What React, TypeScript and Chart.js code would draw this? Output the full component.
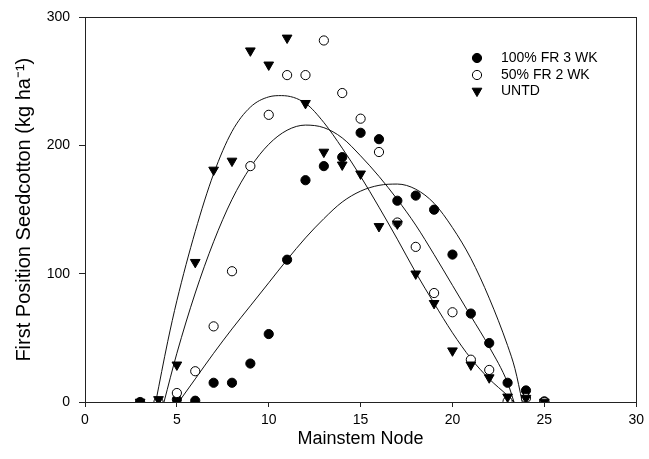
import React, { useEffect, useRef } from "react";
import { Chart, registerables } from "chart.js";

Chart.register(...registerables);

// ---- Data ----
const FR100_NODES = [3, 5, 6, 7, 8, 9, 10, 11, 12, 13, 14, 15, 16, 17, 18, 19, 20, 21, 22, 23, 24, 25];
const FR100_VALUES = [0, 2, 1, 15, 15, 30, 53, 111, 173, 184, 191, 210, 205, 157, 161, 150, 115, 69, 46, 15, 9, 0.5];

const FR50_NODES = [4, 5, 6, 7, 8, 9, 10, 11, 12, 13, 14, 15, 16, 17, 18, 19, 20, 21, 22, 23, 24, 25];
const FR50_VALUES = [0, 7, 24, 59, 102, 184, 224, 255, 255, 282, 241, 221, 195, 140, 121, 85, 70, 33, 25, 0.5, 3, 0];

const UNTD_NODES = [3, 4, 5, 6, 7, 8, 9, 10, 11, 12, 13, 14, 15, 16, 17, 18, 19, 20, 21, 22, 23, 24, 25];
const UNTD_VALUES = [0, 2, 29, 109, 181, 188, 274, 263, 284, 233, 195, 185, 178, 137, 139, 100, 77, 40, 29, 19, 4, 3, 0];

// fitted curves
const FR100_FIT_X = [5.1, 6, 7, 8, 9, 10, 11, 12, 13, 14, 15, 16, 17, 18, 19, 20, 21, 22, 23, 23.4, 23.8];
const FR100_FIT_Y = [0, 18, 38, 57, 75, 93, 111, 128, 143, 156, 164.5, 169, 170, 166, 155, 136, 112, 81, 44, 26, 0];

const FR50_FIT_X = [4.3, 5, 6, 7, 8, 9, 10, 11, 12, 13, 14, 15, 16, 17, 18, 19, 20, 21, 22, 23, 23.35];
const FR50_FIT_Y = [0, 38, 85, 125, 158, 183, 201, 212, 216, 214, 206, 192, 176, 158, 138, 115, 91, 67, 43, 15, 0];

const UNTD_FIT_X = [3.85, 4.5, 5, 6, 7, 8, 9, 10, 10.7, 12, 13, 14, 15, 16, 17, 18, 19, 20, 21, 22, 23, 23.35];
const UNTD_FIT_Y = [0, 47, 79, 133, 178, 211, 230, 238, 239, 233, 218, 198, 176, 152, 127, 101, 77, 54, 34, 18, 5, 0];

const X_TICKS = [0, 5, 10, 15, 20, 25, 30];
const Y_TICKS = [0, 100, 200, 300];

const LEGEND_LABELS = ["100% FR 3 WK", "50% FR 2 WK", "UNTD"];
const X_TITLE = "Mainstem Node";
const Y_TITLE = "First Position Seedcotton (kg ha\u207B\u00B9)";

const FONT = "'Liberation Sans', Arial, sans-serif";

const pts = (xs: number[], ys: number[]) => xs.map((x, i) => ({ x, y: ys[i] }));

const framePlugin = {
  id: "frame",
  afterDatasetsDraw(chart: any) {
    const { ctx, chartArea } = chart;
    ctx.save();
    ctx.strokeStyle = "#222";
    ctx.lineWidth = 1;
    ctx.strokeRect(
      Math.round(chartArea.left) + 0.5,
      Math.round(chartArea.top) + 0.5,
      Math.round(chartArea.right - chartArea.left),
      Math.round(chartArea.bottom - chartArea.top)
    );
    ctx.restore();
  },
};

function drawMarker(ctx: CanvasRenderingContext2D, style: string, r: number, rot: number, x: number, y: number) {
  ctx.beginPath();
  if (style === "triangle") {
    let rad = (rot * Math.PI) / 180;
    ctx.moveTo(x + Math.sin(rad) * r, y - Math.cos(rad) * r);
    rad += (2 * Math.PI) / 3;
    ctx.lineTo(x + Math.sin(rad) * r, y - Math.cos(rad) * r);
    rad += (2 * Math.PI) / 3;
    ctx.lineTo(x + Math.sin(rad) * r, y - Math.cos(rad) * r);
    ctx.closePath();
  } else {
    ctx.arc(x, y, r, 0, Math.PI * 2);
  }
  ctx.fill();
  ctx.stroke();
}

const legendPlugin = {
  id: "customLegend",
  afterDraw(chart: any) {
    const { ctx } = chart;
    const ds = chart.data.datasets;
    const markerX = 477;
    const textX = 501;
    const rows = [58, 75, 91];
    ctx.save();
    [0, 1, 2].forEach((di, i) => {
      const d = ds[di];
      const y = rows[i];
      ctx.fillStyle = d.pointBackgroundColor;
      ctx.strokeStyle = d.pointBorderColor;
      ctx.lineWidth = 1;
      drawMarker(ctx, d.pointStyle, d.pointRadius, d.pointRotation || 0, markerX, y);
      ctx.fillStyle = "#000";
      ctx.font = `14px ${FONT}`;
      ctx.textBaseline = "middle";
      ctx.textAlign = "left";
      ctx.fillText(LEGEND_LABELS[i], textX, y);
    });
    ctx.restore();
  },
};

export default function App() {
  const ref = useRef<HTMLCanvasElement | null>(null);

  useEffect(() => {
    document.body.style.margin = "0";
    const canvas = ref.current;
    if (!canvas) return;
    const curve = (xs: number[], ys: number[]) => ({
      data: pts(xs, ys),
      showLine: true,
      borderColor: "#111",
      borderWidth: 1,
      pointRadius: 0,
      pointHoverRadius: 0,
      cubicInterpolationMode: "monotone" as const,
      fill: false,
      order: 10,
    });
    const chart = new Chart(canvas, {
      type: "scatter",
      data: {
        datasets: [
          {
            label: LEGEND_LABELS[0],
            data: pts(FR100_NODES, FR100_VALUES),
            pointStyle: "circle",
            pointRadius: 4.6,
            pointBackgroundColor: "#000",
            pointBorderColor: "#000",
            pointBorderWidth: 1,
            order: 3,
          } as any,
          {
            label: LEGEND_LABELS[1],
            data: pts(FR50_NODES, FR50_VALUES),
            pointStyle: "circle",
            pointRadius: 4.6,
            pointBackgroundColor: "#fff",
            pointBorderColor: "#000",
            pointBorderWidth: 1,
            order: 2,
          } as any,
          {
            label: LEGEND_LABELS[2],
            data: pts(UNTD_NODES, UNTD_VALUES),
            pointStyle: "triangle",
            pointRadius: 5.6,
            pointRotation: 180,
            pointBackgroundColor: "#000",
            pointBorderColor: "#000",
            pointBorderWidth: 1,
            order: 1,
          } as any,
          curve(FR100_FIT_X, FR100_FIT_Y) as any,
          curve(FR50_FIT_X, FR50_FIT_Y) as any,
          curve(UNTD_FIT_X, UNTD_FIT_Y) as any,
        ],
      },
      options: {
        animation: false,
        responsive: false,
        maintainAspectRatio: false,
        events: [],
        layout: { padding: { left: 0, right: 11, top: 16, bottom: 0 } },
        plugins: {
          legend: { display: false },
          tooltip: { enabled: false },
        },
        scales: {
          x: {
            type: "linear",
            min: 0,
            max: 30,
            afterBuildTicks: (s: any) => {
              s.ticks = X_TICKS.map((v) => ({ value: v }));
            },
            afterFit: (s: any) => {
              s.height = 57;
            },
            grid: { display: true, drawOnChartArea: false, drawTicks: true, tickLength: 5, color: "#222" },
            border: { display: true, color: "#222" },
            ticks: { color: "#000", font: { size: 14, family: FONT }, padding: 5, maxRotation: 0 },
            title: {
              display: true,
              text: X_TITLE,
              color: "#000",
              font: { size: 18, family: FONT },
              padding: { top: 0, bottom: 9 },
            },
          },
          y: {
            type: "linear",
            min: 0,
            max: 300,
            afterBuildTicks: (s: any) => {
              s.ticks = Y_TICKS.map((v) => ({ value: v }));
            },
            afterFit: (s: any) => {
              s.width = 85;
            },
            grid: { display: true, drawOnChartArea: false, drawTicks: true, tickLength: 6, color: "#222" },
            border: { display: true, color: "#222" },
            ticks: { color: "#000", font: { size: 14, family: FONT }, padding: 9 },
            title: {
              display: true,
              text: Y_TITLE,
              color: "#000",
              font: { size: 20, family: FONT },
              padding: { top: 12, bottom: 0 },
            },
          },
        },
      },
      plugins: [framePlugin, legendPlugin],
    });
    return () => chart.destroy();
  }, []);

  return (
    <div style={{ width: 649, height: 459, background: "#fff" }}>
      <canvas ref={ref} width={649} height={459} style={{ display: "block", width: 649, height: 459 }} />
    </div>
  );
}
